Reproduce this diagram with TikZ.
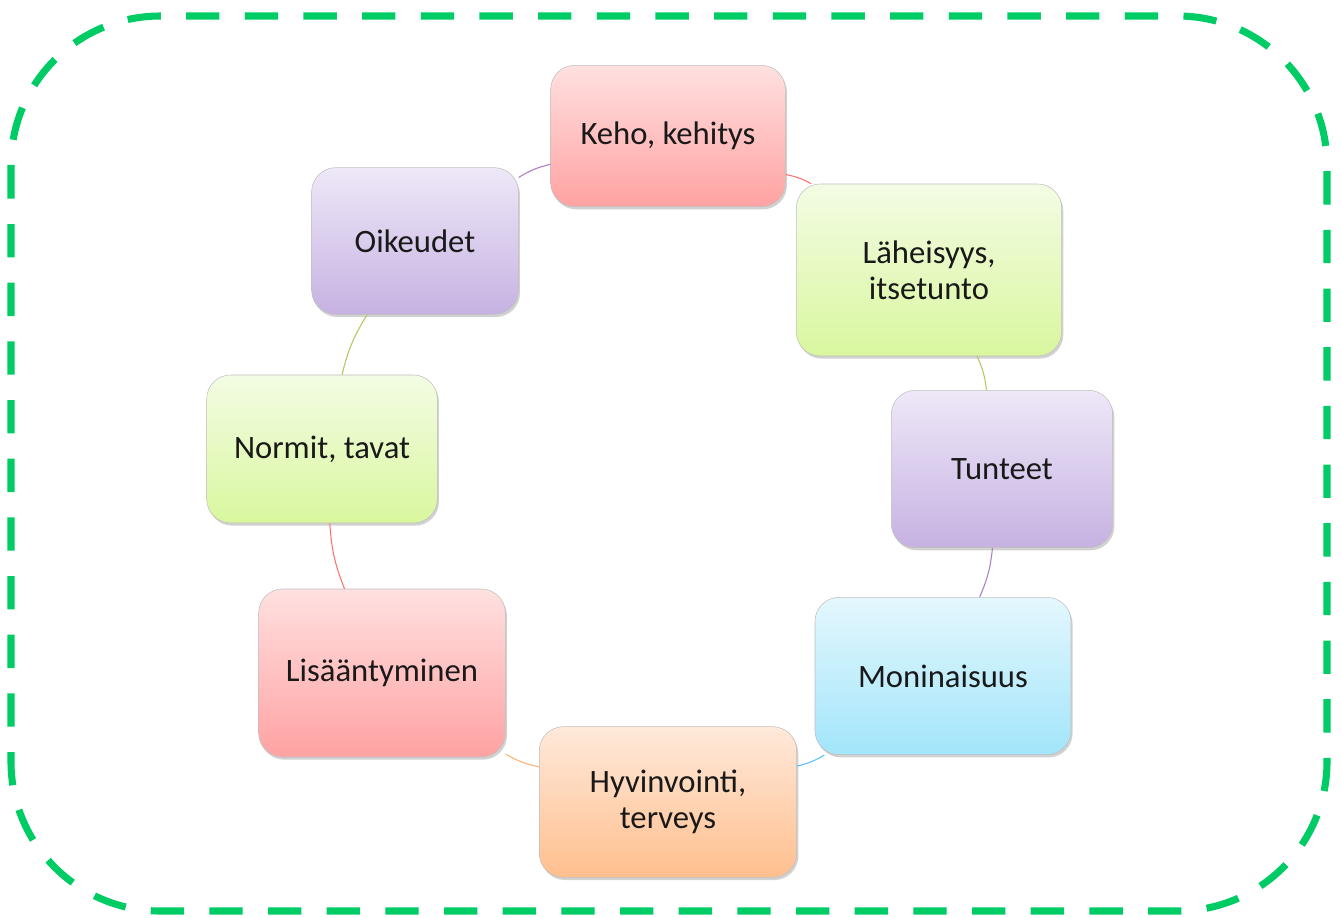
\documentclass[tikz,border=0pt]{standalone}
\usepackage{fontspec}
\setmainfont{Carlito}
\usepackage{tikz}
\usetikzlibrary{shadows}
\definecolor{frame-green}{HTML}{00CC66}
\definecolor{red-top}{HTML}{FFE0E0}
\definecolor{red-bot}{HTML}{FFA2A2}
\definecolor{green-top}{HTML}{F3FCE4}
\definecolor{green-bot}{HTML}{D9F79E}
\definecolor{violet-top}{HTML}{EEE8F8}
\definecolor{violet-bot}{HTML}{C6B2E2}
\definecolor{blue-top}{HTML}{E4F7FD}
\definecolor{blue-bot}{HTML}{A2E5FB}
\definecolor{orange-top}{HTML}{FFE9DA}
\definecolor{orange-bot}{HTML}{FFBF8E}
\tikzset{
    topic-box/.style = {rectangle, rounded corners=18pt, draw=black!25, thin, text=black!90,
        font=\fontsize{24.5}{27}\selectfont, align=center, inner sep=4pt,
        drop shadow={shadow xshift=1.2pt, shadow yshift=-2pt, opacity=0.3, fill=black!60}},
    topic-red/.style = {topic-box, top color=red-top, bottom color=red-bot},
    topic-green/.style = {topic-box, top color=green-top, bottom color=green-bot},
    topic-violet/.style = {topic-box, top color=violet-top, bottom color=violet-bot},
    topic-blue/.style = {topic-box, top color=blue-top, bottom color=blue-bot},
    topic-orange/.style = {topic-box, top color=orange-top, bottom color=orange-bot},
    link/.style = {line width=0.8pt, bend left=9},
}

\begin{document}
\begin{tikzpicture}[x=0.75pt, y=-0.75pt]
\useasboundingbox (0,0) rectangle (1341,917);
% dashed frame
\draw[frame-green, line width=5.3pt, dash pattern=on 25pt off 19pt, rounded corners=112pt]
    (11,16) rectangle (1327,911);

% topics round the circle
\node[topic-red, minimum width=176pt, minimum height=106pt] (keho) at (668,136) {Keho, kehitys};
\node[topic-green, minimum width=199pt, minimum height=129pt] (laheisyys) at (929,270) {Läheisyys,\\itsetunto};
\node[topic-violet, minimum width=166pt, minimum height=118pt] (tunteet) at (1002,469) {Tunteet};
\node[topic-blue, minimum width=192pt, minimum height=118pt] (moninaisuus) at (943,676) {Moninaisuus};
\node[topic-orange, minimum width=193pt, minimum height=113pt] (hyvinvointi) at (668,802) {Hyvinvointi,\\terveys};
\node[topic-red, minimum width=185pt, minimum height=126pt] (lisaantyminen) at (382,673) {Lisääntyminen};
\node[topic-green, minimum width=173pt, minimum height=111pt] (normit) at (322,449) {Normit, tavat};
\node[topic-violet, minimum width=155pt, minimum height=110pt] (oikeudet) at (415,241) {Oikeudet};

% connecting arcs
\draw[link, red-bot!70!red] (keho) to (laheisyys);
\draw[link, green-bot!60!olive] (laheisyys) to (tunteet);
\draw[link, violet-bot!70!violet] (tunteet) to (moninaisuus);
\draw[link, blue-bot!70!cyan!80!blue] (moninaisuus) to (hyvinvointi);
\draw[link, orange-bot!80!orange] (hyvinvointi) to (lisaantyminen);
\draw[link, red-bot!70!red] (lisaantyminen) to (normit);
\draw[link, green-bot!60!olive] (normit) to (oikeudet);
\draw[link, violet-bot!70!violet] (oikeudet) to (keho);
\end{tikzpicture}
\end{document}
